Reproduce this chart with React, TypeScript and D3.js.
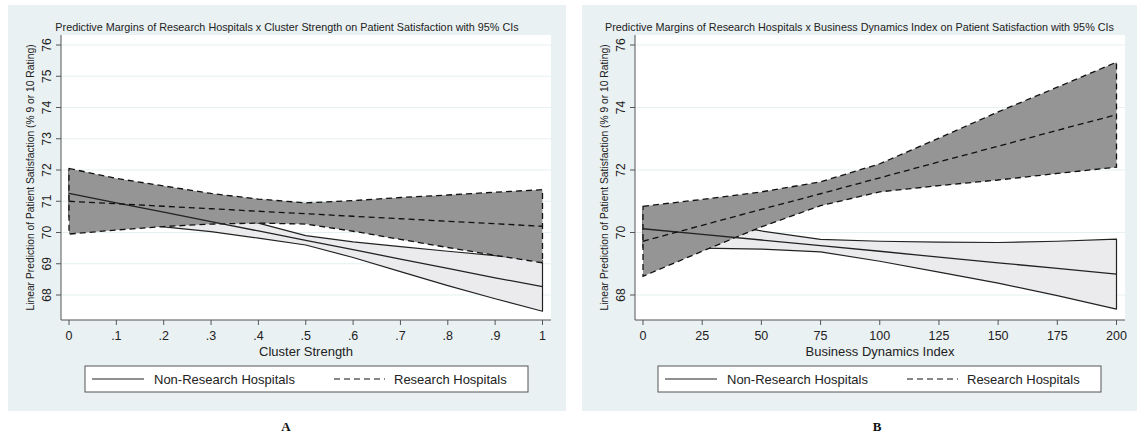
import React from 'react';
import * as d3 from 'd3';

// Panel A: Cluster Strength
const clusterX = [0, 0.1, 0.2, 0.3, 0.4, 0.5, 0.6, 0.7, 0.8, 0.9, 1];
const clusterResMid = [71.0, 70.92, 70.84, 70.76, 70.68, 70.6, 70.52, 70.44, 70.36, 70.28, 70.2];
const clusterResHi = [72.05, 71.73, 71.49, 71.25, 71.07, 70.95, 71.02, 71.12, 71.2, 71.29, 71.37];
const clusterResLo = [69.95, 70.08, 70.19, 70.27, 70.3, 70.27, 70.04, 69.78, 69.52, 69.27, 69.03];
const clusterNonMid = [71.25, 70.95, 70.65, 70.35, 70.05, 69.75, 69.45, 69.15, 68.85, 68.55, 68.27];
const clusterNonHi = [72.0, 71.55, 71.1, 70.68, 70.3, 69.9, 69.7, 69.55, 69.4, 69.26, 69.1];
const clusterNonLo = [70.5, 70.35, 70.18, 70.03, 69.82, 69.6, 69.2, 68.75, 68.3, 67.88, 67.48];
const clusterTicks = [0, 0.1, 0.2, 0.3, 0.4, 0.5, 0.6, 0.7, 0.8, 0.9, 1];
const clusterTickLabels = ['0', '.1', '.2', '.3', '.4', '.5', '.6', '.7', '.8', '.9', '1'];
const clusterYTicks = [68, 69, 70, 71, 72, 73, 74, 75, 76];

// Panel B: Business Dynamics Index
const bdiX = [0, 25, 50, 75, 100, 125, 150, 175, 200];
const bdiResMid = [69.72, 70.23, 70.74, 71.24, 71.75, 72.26, 72.76, 73.27, 73.77];
const bdiResHi = [70.84, 71.06, 71.3, 71.62, 72.2, 73.02, 73.86, 74.65, 75.45];
const bdiResLo = [68.6, 69.4, 70.18, 70.86, 71.3, 71.5, 71.68, 71.89, 72.09];
const bdiNonMid = [70.12, 69.94, 69.76, 69.58, 69.4, 69.21, 69.03, 68.85, 68.67];
const bdiNonHi = [70.72, 70.38, 70.05, 69.78, 69.72, 69.69, 69.68, 69.72, 69.79];
const bdiNonLo = [69.52, 69.5, 69.47, 69.38, 69.08, 68.73, 68.38, 67.98, 67.55];
const bdiTicks = [0, 25, 50, 75, 100, 125, 150, 175, 200];
const bdiTickLabels = ['0', '25', '50', '75', '100', '125', '150', '175', '200'];
const bdiYTicks = [68, 70, 72, 74, 76];

const yTitle = 'Linear Prediction of Patient Satisfaction (% 9 or 10 Rating)';
const legendLabels = ['Non-Research Hospitals', 'Research Hospitals'];

const FONT = "'Liberation Sans', Arial, Helvetica, sans-serif";
const BG = '#eaf1f3';
const GRID = '#e6eff1';
const AXIS = '#555';
const DARK = '#959595';
const LIGHT = '#ebebed';
const LINE = '#222';
const DASH = '6,4';

type Pt = { x: number; lo: number; mid: number; hi: number };

interface PanelProps {
  bgX: number;
  bgW: number;
  plotL: number;
  plotR: number;
  xDomain: [number, number];
  xTicks: number[];
  xTickLabels: string[];
  yTicks: number[];
  xTitle: string;
  title: string;
  xs: number[];
  resLo: number[];
  resMid: number[];
  resHi: number[];
  nonLo: number[];
  nonMid: number[];
  nonHi: number[];
  legendL: number;
  letter: string;
  letterX: number;
}

const Panel: React.FC<PanelProps> = (p) => {
  const top = 35;
  const bottom = 320;
  const x = d3.scaleLinear().domain(p.xDomain).range([p.plotL + 8, p.plotR - 8.5]);
  const y = d3.scaleLinear().domain([67.2, 76.32]).range([bottom, top]);

  const toPts = (lo: number[], mid: number[], hi: number[]): Pt[] =>
    p.xs.map((v, i) => ({ x: v, lo: lo[i], mid: mid[i], hi: hi[i] }));
  const res = toPts(p.resLo, p.resMid, p.resHi);
  const non = toPts(p.nonLo, p.nonMid, p.nonHi);

  // closed outline of the CI band (upper edge forward, lower edge back)
  const band = (pts: Pt[]) => {
    const ring: [number, number][] = [
      ...pts.map((d) => [x(d.x), y(d.hi)] as [number, number]),
      ...pts.slice().reverse().map((d) => [x(d.x), y(d.lo)] as [number, number]),
    ];
    return d3.line()(ring) + 'Z';
  };
  const mid = d3.line<Pt>().x((d) => x(d.x)).y((d) => y(d.mid));

  const cx = p.bgX + p.bgW / 2;
  const cy = (top + bottom) / 2;
  const lgTop = 366;
  const lgH = 26;
  const lgW = 443;
  const lgMid = lgTop + lgH / 2;

  return (
    <g>
      <rect x={p.bgX} y={5} width={p.bgW} height={406} fill={BG} />
      <rect x={p.plotL} y={top} width={p.plotR - p.plotL} height={bottom - top} fill="#fff" />
      {p.yTicks.map((t) => (
        <line key={'g' + t} x1={p.plotL} x2={p.plotR} y1={y(t)} y2={y(t)} stroke={GRID} strokeWidth={1.2} />
      ))}

      <text x={cx} y={31} textAnchor="middle" fontFamily={FONT} fontSize={10.8} fill="#222">
        {p.title}
      </text>

      {/* CI bands */}
      <path d={band(non)} fill={LIGHT} stroke={LINE} strokeWidth={1.2} strokeLinejoin="round" />
      <path d={band(res)} fill={DARK} stroke="#111" strokeWidth={1.3} strokeDasharray={DASH} />
      {/* point estimates */}
      <path d={mid(non) || ''} fill="none" stroke={LINE} strokeWidth={1.3} />
      <path d={mid(res) || ''} fill="none" stroke="#111" strokeWidth={1.3} strokeDasharray={DASH} />

      {/* axes */}
      <line x1={p.plotL} x2={p.plotL} y1={top} y2={bottom} stroke={AXIS} strokeWidth={1} />
      <line x1={p.plotL} x2={p.plotR} y1={bottom} y2={bottom} stroke={AXIS} strokeWidth={1} />
      {p.yTicks.map((t) => (
        <g key={'y' + t}>
          <line x1={p.plotL - 5} x2={p.plotL} y1={y(t)} y2={y(t)} stroke={AXIS} />
          <text
            transform={`translate(${p.plotL - 10.5},${y(t)}) rotate(-90)`}
            textAnchor="middle"
            fontFamily={FONT}
            fontSize={12}
            fill="#222"
          >
            {t}
          </text>
        </g>
      ))}
      {p.xTicks.map((t, i) => (
        <g key={'x' + t}>
          <line x1={x(t)} x2={x(t)} y1={bottom} y2={bottom + 5} stroke={AXIS} />
          <text x={x(t)} y={339.5} textAnchor="middle" fontFamily={FONT} fontSize={12.5} fill="#222">
            {p.xTickLabels[i]}
          </text>
        </g>
      ))}
      <text
        transform={`translate(${p.plotL - 27},${cy}) rotate(-90)`}
        textAnchor="middle"
        fontFamily={FONT}
        fontSize={10.3}
        fill="#222"
      >
        {yTitle}
      </text>
      <text x={(p.plotL + p.plotR) / 2} y={356} textAnchor="middle" fontFamily={FONT} fontSize={13} fill="#222">
        {p.xTitle}
      </text>

      {/* legend */}
      <rect x={p.legendL} y={lgTop} width={lgW} height={lgH} fill="#fff" stroke={AXIS} strokeWidth={1} />
      <line x1={p.legendL + 7} x2={p.legendL + 59} y1={lgMid} y2={lgMid} stroke={LINE} strokeWidth={1.2} />
      <text x={p.legendL + 69} y={lgMid + 4.5} fontFamily={FONT} fontSize={13} fill="#222">
        {legendLabels[0]}
      </text>
      <line
        x1={p.legendL + 249}
        x2={p.legendL + 300}
        y1={lgMid}
        y2={lgMid}
        stroke="#111"
        strokeWidth={1.2}
        strokeDasharray={DASH}
      />
      <text x={p.legendL + 309} y={lgMid + 4.5} fontFamily={FONT} fontSize={13} fill="#222">
        {legendLabels[1]}
      </text>

      <text
        x={p.letterX}
        y={431}
        textAnchor="middle"
        fontFamily="'Liberation Serif', 'Times New Roman', serif"
        fontWeight="bold"
        fontSize={13}
        fill="#111"
      >
        {p.letter}
      </text>
    </g>
  );
};

export default function App() {
  return (
    <div style={{ position: 'fixed', left: 0, top: 0 }}>
      <svg width={1137} height={442} style={{ display: 'block', background: '#fff' }}>
        <Panel
          bgX={8}
          bgW={558}
          plotL={61}
          plotR={551}
          xDomain={[0, 1]}
          xTicks={clusterTicks}
          xTickLabels={clusterTickLabels}
          yTicks={clusterYTicks}
          xTitle="Cluster Strength"
          title="Predictive Margins of Research Hospitals x Cluster Strength on Patient Satisfaction with 95% CIs"
          xs={clusterX}
          resLo={clusterResLo}
          resMid={clusterResMid}
          resHi={clusterResHi}
          nonLo={clusterNonLo}
          nonMid={clusterNonMid}
          nonHi={clusterNonHi}
          legendL={85}
          letter="A"
          letterX={286}
        />
        <Panel
          bgX={582}
          bgW={555}
          plotL={635}
          plotR={1125}
          xDomain={[0, 200]}
          xTicks={bdiTicks}
          xTickLabels={bdiTickLabels}
          yTicks={bdiYTicks}
          xTitle="Business Dynamics Index"
          title="Predictive Margins of Research Hospitals x Business Dynamics Index on Patient Satisfaction with 95% CIs"
          xs={bdiX}
          resLo={bdiResLo}
          resMid={bdiResMid}
          resHi={bdiResHi}
          nonLo={bdiNonLo}
          nonMid={bdiNonMid}
          nonHi={bdiNonHi}
          legendL={658}
          letter="B"
          letterX={877}
        />
      </svg>
    </div>
  );
}
